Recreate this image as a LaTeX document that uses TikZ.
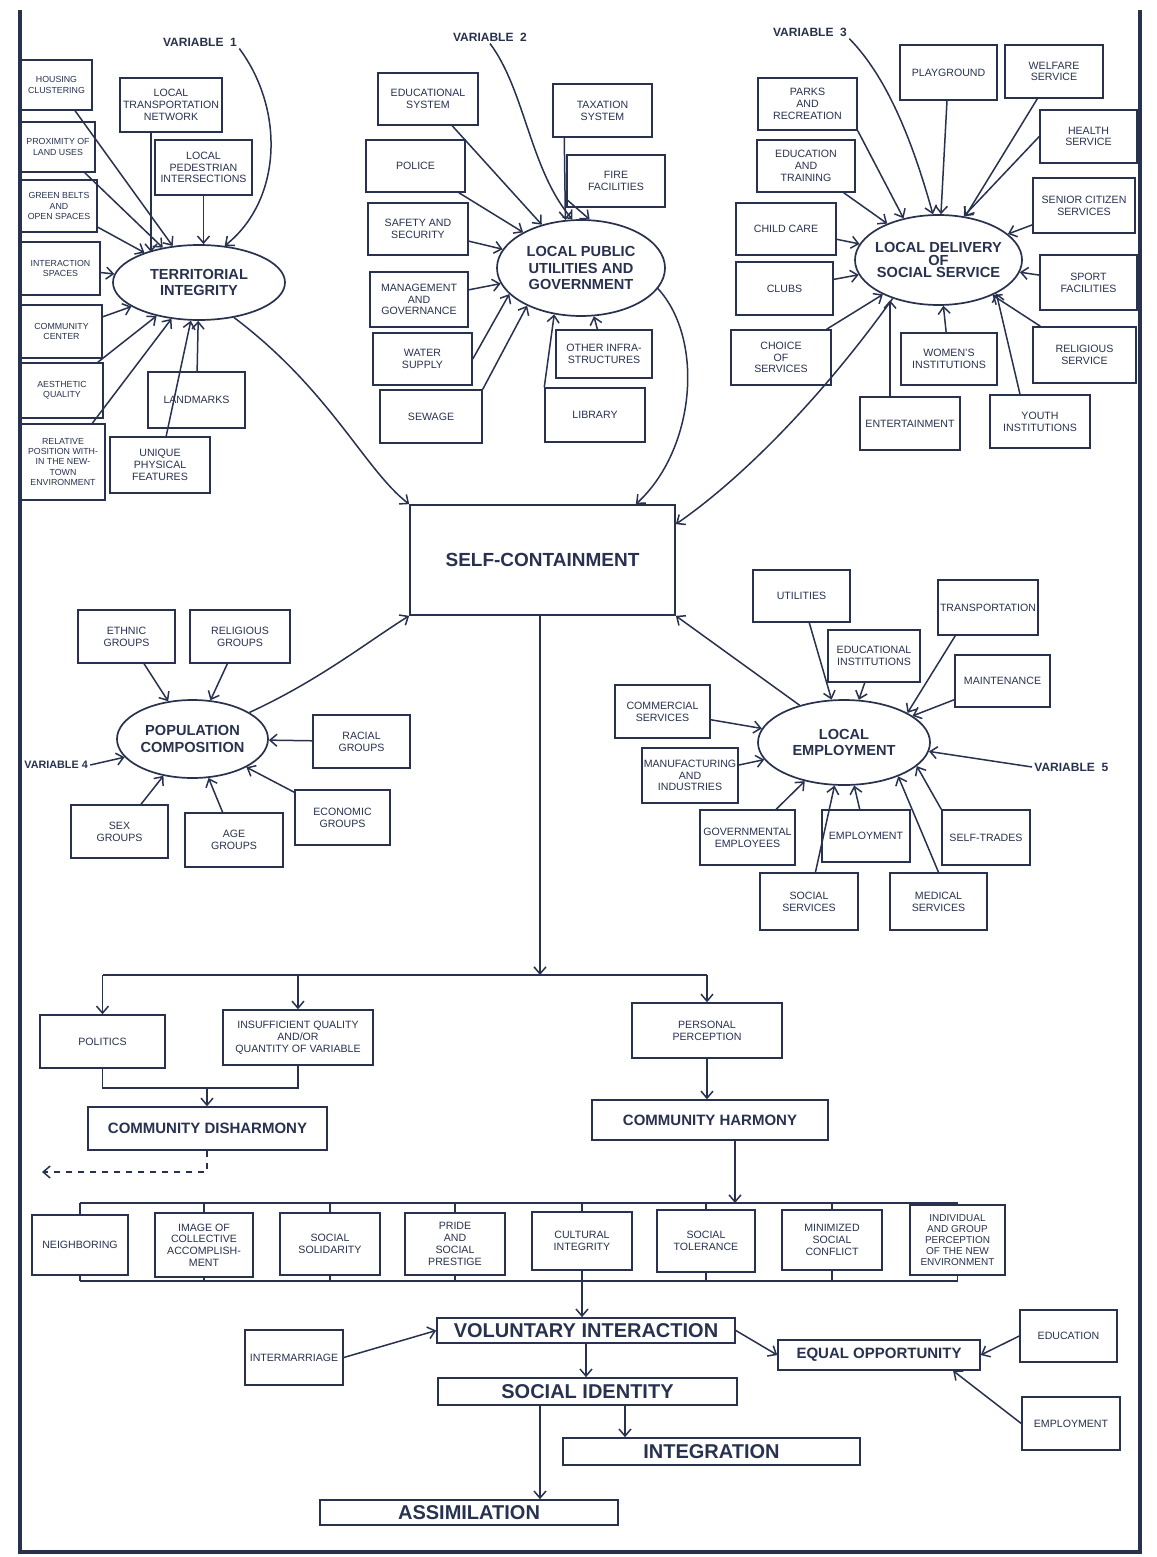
\documentclass[tikz,border=0pt]{standalone}
\usepackage{fontspec}
\setmainfont{Liberation Sans}
\usetikzlibrary{shapes.geometric,arrows.meta}
\definecolor{ink}{RGB}{40,50,78}
\tikzset{
  bx/.style={draw=ink,line width=0.75pt,inner sep=0pt,align=center,text=ink,font=\fontsize{5.3}{5.9}\selectfont},
  sbx/.style={bx,font=\fontsize{4.4}{5.1}\selectfont},
  mid/.style={bx,font=\fontsize{7.5}{9}\selectfont\bfseries},
  big/.style={bx,line width=0.85pt,font=\fontsize{10}{12}\selectfont\bfseries},
  scb/.style={bx,line width=0.85pt,font=\fontsize{9.5}{11}\selectfont\bfseries},
  ell/.style={ellipse,draw=ink,line width=0.85pt,inner xsep=-14pt,inner ysep=-5pt,align=center,text=ink,font=\fontsize{7.3}{8.4}\selectfont\bfseries},
  lbl/.style={inner sep=1pt,text=ink,font=\fontsize{6}{7}\selectfont\bfseries},
  arr/.style={draw=ink,line width=0.75pt,-{Straight Barb[length=3.5pt,width=6pt]}},
  ln/.style={draw=ink,line width=0.75pt}
}
\newcommand\mybox[7][bx]{\node[#1,minimum width={(#5-#3)*0.5pt},minimum height={(#6-#4)*0.5pt}] (#2) at ({(#3+#5)/2},{(#4+#6)/2}) {#7};}
\newcommand\myell[6]{\node[ell,minimum width={(#4-#2)*0.5pt},minimum height={(#5-#3)*0.5pt}] (#1) at ({(#2+#4)/2},{(#3+#5)/2}) {#6};}
\begin{document}
\begin{tikzpicture}[x=0.5pt,y=-0.5pt]
\useasboundingbox[fill=white] (0,0) rectangle (1156,1557);
% ---------------- Variable 1
\node[lbl] (v1) at (200,42) {VARIABLE\ \ 1};
\myell{ti}{113}{245}{285}{320}{TERRITORIAL\\INTEGRITY}
\mybox[sbx]{hc}{21}{60}{92}{110}{HOUSING\\CLUSTERING}
\mybox[sbx]{pl}{21}{122}{95}{172}{PROXIMITY OF\\LAND USES}
\mybox[sbx]{gb}{21}{180}{97}{232}{GREEN BELTS\\AND\\OPEN SPACES}
\mybox[sbx]{is}{21}{242}{100}{295}{INTERACTION\\SPACES}
\mybox[sbx]{cc}{21}{305}{102}{358}{COMMUNITY\\CENTER}
\mybox[sbx]{aq}{21}{363}{103}{418}{AESTHETIC\\QUALITY}
\mybox[sbx]{rp}{21}{424}{105}{500}{RELATIVE\\POSITION WITH-\\IN THE NEW-\\TOWN\\ENVIRONMENT}
\mybox{ltn}{120}{78}{222}{132}{LOCAL\\TRANSPORTATION\\NETWORK}
\mybox{lpi}{155}{140}{252}{195}{LOCAL\\PEDESTRIAN\\INTERSECTIONS}
\mybox{lm}{148}{372}{245}{428}{LANDMARKS}
\mybox{upf}{110}{437}{210}{493}{UNIQUE\\PHYSICAL\\FEATURES}
\foreach \n in {hc,pl,gb,is,cc,aq,rp,lm,upf} \draw[arr] (\n) -- (ti);
\draw[arr] ([xshift=-10pt]ltn.south) -- ([xshift=-10pt]ltn.south |- ti.150);
\draw[arr] (lpi.south) -- (lpi.south |- ti.north);
\draw[arr] (v1.south east) .. controls (285,110) and (282,200) .. (ti.55);
% ---------------- Variable 2
\node[lbl] (v2) at (490,37) {VARIABLE\ \ 2};
\myell{lpu}{497}{220}{665}{316}{LOCAL PUBLIC\\UTILITIES AND\\GOVERNMENT}
\mybox{es}{378}{73}{478}{125}{EDUCATIONAL\\SYSTEM}
\mybox{ts}{553}{84}{652}{137}{TAXATION\\SYSTEM}
\mybox{pol}{366}{140}{465}{192}{POLICE}
\mybox{ff}{567}{155}{665}{207}{FIRE\\FACILITIES}
\mybox{sas}{368}{203}{468}{255}{SAFETY AND\\SECURITY}
\mybox{mg}{370}{272}{468}{327}{MANAGEMENT\\AND\\GOVERNANCE}
\mybox{ws}{373}{333}{472}{385}{WATER\\SUPPLY}
\mybox{oi}{556}{330}{652}{378}{OTHER INFRA-\\STRUCTURES}
\mybox{sew}{380}{390}{482}{443}{SEWAGE}
\mybox{lib}{545}{388}{645}{442}{LIBRARY}
\foreach \n in {es,pol,sas,mg,oi} \draw[arr] (\n) -- (lpu);
\draw[arr] ([xshift=6pt]ts.south west) -- (lpu.108);
\draw[arr] (ff.200) -- (lpu.80);
\draw[arr] (ws.east) -- (lpu.200);
\draw[arr] (sew.north east) -- (lpu.215);
\draw[arr] (lib.north west) -- (lpu.240);
\draw[arr] (v2.south) .. controls (525,90) and (530,170) .. (lpu.100);
% ---------------- Variable 3
\node[lbl] (v3) at (810,32) {VARIABLE\ \ 3};
\myell{lds}{855}{215}{1022}{305}{LOCAL DELIVERY\\[-2pt]OF\\[-2pt]SOCIAL SERVICE}
\mybox{pg}{900}{45}{997}{100}{PLAYGROUND}
\mybox{wf}{1005}{45}{1103}{98}{WELFARE\\SERVICE}
\mybox{pr}{758}{78}{857}{130}{PARKS\\AND\\RECREATION}
\mybox{hs}{1040}{110}{1137}{163}{HEALTH\\SERVICE}
\mybox{et}{757}{140}{855}{192}{EDUCATION\\AND\\TRAINING}
\mybox{scs}{1033}{178}{1135}{233}{SENIOR CITIZEN\\SERVICES}
\mybox{chc}{736}{203}{836}{255}{CHILD CARE}
\mybox{clb}{736}{262}{833}{315}{CLUBS}
\mybox{sf}{1040}{255}{1137}{310}{SPORT\\FACILITIES}
\mybox{cos}{731}{330}{831}{385}{CHOICE\\OF\\SERVICES}
\mybox{wi}{901}{333}{997}{385}{WOMEN'S\\INSTITUTIONS}
\mybox{rs}{1033}{327}{1136}{383}{RELIGIOUS\\SERVICE}
\mybox{ent}{860}{397}{960}{450}{ENTERTAINMENT}
\mybox{yi}{990}{395}{1090}{448}{YOUTH\\INSTITUTIONS}
\foreach \n in {pg,wf,et,scs,chc,clb,sf,cos,wi,rs} \draw[arr] (\n) -- (lds);
\draw[arr] (pr.south east) -- (lds.130);
\draw[arr] (hs.west) -- (lds.60);
\draw[arr] ([xshift=-10pt]ent.north) -- ([xshift=-10pt]ent.north |- lds.225);
\draw[arr] ([xshift=-10pt]yi.north) -- (lds.-30);
\draw[arr] (v3.south east) .. controls (890,80) and (915,150) .. (lds.97);
% ---------------- Self-containment
\mybox[scb]{sc}{410}{505}{675}{615}{SELF-CONTAINMENT}
\draw[arr] (ti.-45) .. controls (330,390) and (365,470) .. (sc.north west);
\draw[arr] (lpu.-15) .. controls (705,340) and (695,450) .. ([xshift=-20pt]sc.north east);
\draw[arr] (lds.220) .. controls (820,400) and (740,480) .. ([yshift=-10pt]sc.north east);
% ---------------- Variable 4
\myell{pc}{117}{700}{268}{778}{POPULATION\\COMPOSITION}
\mybox{eg}{78}{610}{175}{663}{ETHNIC\\GROUPS}
\mybox{rg}{190}{610}{290}{663}{RELIGIOUS\\GROUPS}
\mybox{rcg}{313}{715}{410}{768}{RACIAL\\GROUPS}
\mybox{sg}{71}{805}{168}{858}{SEX\\GROUPS}
\mybox{ag}{185}{813}{283}{867}{AGE\\GROUPS}
\mybox{ecg}{295}{790}{390}{845}{ECONOMIC\\GROUPS}
\foreach \n in {eg,rg,rcg,sg,ag,ecg} \draw[arr] (\n) -- (pc);
\node[lbl,anchor=west,font=\fontsize{5.4}{6}\selectfont\bfseries] (v4) at (22,765) {VARIABLE 4};
\draw[arr] (v4.east) -- (pc.195);
\draw[arr] (pc.25) .. controls (320,680) and (370,640) .. (sc.south west);
% ---------------- Variable 5
\myell{le}{758}{700}{930}{785}{LOCAL\\EMPLOYMENT}
\mybox{ut}{753}{570}{850}{622}{UTILITIES}
\mybox{tr}{938}{580}{1038}{635}{TRANSPORTATION}
\mybox{ei}{828}{630}{920}{682}{EDUCATIONAL\\INSTITUTIONS}
\mybox{mt}{955}{655}{1050}{707}{MAINTENANCE}
\mybox{cs}{615}{685}{710}{738}{COMMERCIAL\\SERVICES}
\mybox{mi}{642}{748}{738}{803}{MANUFACTURING\\AND\\INDUSTRIES}
\mybox{ge}{700}{810}{795}{865}{GOVERNMENTAL\\EMPLOYEES}
\mybox{emp}{822}{810}{910}{862}{EMPLOYMENT}
\mybox{slt}{942}{810}{1030}{865}{SELF-TRADES}
\mybox{sos}{760}{873}{858}{930}{SOCIAL\\SERVICES}
\mybox{ms}{890}{873}{987}{930}{MEDICAL\\SERVICES}
\foreach \n in {ut,ei,mt,cs,mi,ge,emp,sos} \draw[arr] (\n) -- (le);
\draw[arr] ([xshift=9pt]tr.south west) -- (le.25);
\draw[arr] (slt.north west) -- (le.-18);
\draw[arr] (ms.north) -- (le.-32);
\node[lbl,anchor=west] (v5) at (1032,767) {VARIABLE\ \ 5};
\draw[arr] (v5.west) -- (le.-6);
\draw[arr] (le.140) -- (sc.south east);
% ---------------- Lower flow
\coordinate (j0) at (540,975);
\draw[arr] (sc.south -| j0) -- (j0);
\mybox{pol2}{40}{1015}{165}{1068}{POLITICS}
\mybox{ins}{223}{1010}{373}{1065}{INSUFFICIENT QUALITY\\AND/OR\\QUANTITY OF VARIABLE}
\mybox{pp}{632}{1003}{782}{1058}{PERSONAL\\PERCEPTION}
\draw[ln] (pol2.north |- j0) -- (pp.north |- j0);
\draw[arr] (pol2.north |- j0) -- (pol2.north);
\draw[arr] (ins.north |- j0) -- (ins.north);
\draw[arr] (pp.north |- j0) -- (pp.north);
\mybox[mid]{cd}{88}{1107}{327}{1150}{COMMUNITY DISHARMONY}
\coordinate (j1) at (207,1088);
\draw[ln] (pol2.south) |- (j1) -| (ins.south);
\draw[arr] (j1) -- (j1 |- cd.north);
\coordinate (dE) at (42,1172);
\draw[arr,dashed] (cd.south -| j1) |- (dE);
\mybox[mid]{ch}{592}{1100}{828}{1140}{COMMUNITY HARMONY}
\draw[arr] (pp.south) -- (pp.south |- ch.north);
\coordinate (tbj) at (735,1203);
\coordinate (bbj) at (582,1281);
\draw[arr] (ch.south -| tbj) -- (tbj);
% row of outcomes
\mybox{nb}{32}{1215}{128}{1275}{NEIGHBORING}
\mybox{img}{155}{1213}{253}{1277}{IMAGE OF\\COLLECTIVE\\ACCOMPLISH-\\MENT}
\mybox{ss}{280}{1213}{380}{1275}{SOCIAL\\SOLIDARITY}
\mybox{pride}{405}{1213}{505}{1275}{PRIDE\\AND\\SOCIAL\\PRESTIGE}
\mybox{ci}{532}{1212}{632}{1270}{CULTURAL\\INTEGRITY}
\mybox{st}{657}{1210}{755}{1272}{SOCIAL\\TOLERANCE}
\mybox{msc}{782}{1210}{882}{1270}{MINIMIZED\\SOCIAL\\CONFLICT}
\node[bx,font=\fontsize{5}{5.6}\selectfont,minimum width=47.5pt,minimum height=35pt] (igp) at (957.5,1240) {INDIVIDUAL\\AND GROUP\\PERCEPTION\\OF THE NEW\\ENVIRONMENT};
\draw[ln] (nb.north |- tbj) -- (igp.north |- tbj);
\draw[ln] (nb.south |- bbj) -- (igp.south |- bbj);
\foreach \n in {nb,img,ss,pride,ci,st,msc,igp} {
  \draw[ln] (\n.north) -- (\n.north |- tbj);
  \draw[ln] (\n.south) -- (\n.south |- bbj);
}
% final chain
\mybox[big]{vi}{437}{1318}{735}{1343}{VOLUNTARY INTERACTION}
\draw[arr] (bbj) -- (bbj |- vi.north);
\mybox{im}{245}{1330}{343}{1385}{INTERMARRIAGE}
\draw[arr] (im.east) -- (vi.west);
\mybox[mid]{eo}{778}{1340}{980}{1370}{EQUAL OPPORTUNITY}
\draw[arr] (vi.east) -- (eo.west);
\mybox{edu}{1020}{1310}{1117}{1362}{EDUCATION}
\mybox{emp2}{1022}{1397}{1120}{1450}{EMPLOYMENT}
\draw[arr] (edu.west) -- (eo.east);
\draw[arr] (emp2.west) -- (eo.-12);
\mybox[big]{si}{438}{1378}{737}{1405}{SOCIAL IDENTITY}
\draw[arr] (vi.south) -- (vi.south |- si.north);
\mybox[big]{int}{563}{1438}{860}{1465}{INTEGRATION}
\draw[arr] ([xshift=18.75pt]si.south) -- ([xshift=18.75pt]si.south |- int.north);
\mybox[big]{as}{320}{1500}{618}{1525}{ASSIMILATION}
\draw[arr] ([xshift=-23.75pt]si.south) -- ([xshift=-23.75pt]si.south |- as.north);
% page frame
\draw[ink,line width=1.6pt] (20,10) -- (20,1552) -- (1140,1552) -- (1140,10);
\end{tikzpicture}
\end{document}
